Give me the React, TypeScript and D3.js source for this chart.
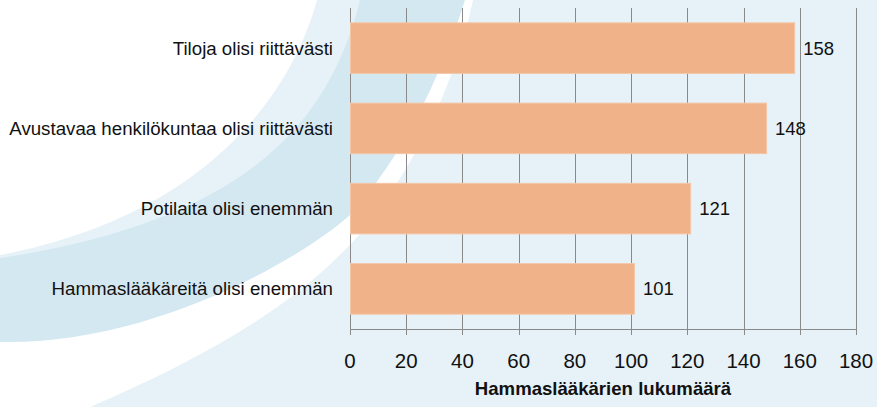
import React, { useEffect, useRef } from 'react';
import * as d3 from 'd3';

const categories = [
  'Tiloja olisi riittävästi',
  'Avustavaa henkilökuntaa olisi riittävästi',
  'Potilaita olisi enemmän',
  'Hammaslääkäreitä olisi enemmän',
];
const values = [158, 148, 121, 101];
const xTicks = [0, 20, 40, 60, 80, 100, 120, 140, 160, 180];
const xTitle = 'Hammaslääkärien lukumäärä';

const width = 877;
const height = 407;
const margin = { top: 8, right: 21, bottom: 78, left: 350 };

const lightBlue = '#e7f2f8';
const darkBlue = '#d4e8f1';
const barColor = '#f0b289';
const gridColor = '#8a8a8a';
const font = '"Liberation Sans", Arial, sans-serif';

function App() {
  const ref = useRef<SVGSVGElement>(null);

  useEffect(() => {
    const svg = d3.select(ref.current);
    svg.selectAll('*').remove();

    // background swooshes
    const bg = svg.append('g');
    bg.append('rect').attr('width', width).attr('height', height).attr('fill', lightBlue);
    bg.append('path')
      .attr('d', 'M0,0 L317,0 C288,105 195,218 0,255 Z')
      .attr('fill', '#ffffff');
    bg.append('path')
      .attr('d', 'M462,0 L473,0 C455,85 415,165 365,228 C300,305 200,360 90,407 L0,407 L0,300 C200,300 400,150 462,0 Z')
      .attr('fill', '#ffffff');
    bg.append('path')
      .attr('d', 'M360,0 L465,0 C440,80 400,160 350,215 C300,260 150,345 0,342 L0,258 C250,220 330,120 360,0 Z')
      .attr('fill', darkBlue);

    const chartW = width - margin.left - margin.right;
    const chartH = height - margin.top - margin.bottom;

    const g = svg.append('g')
      .attr('transform', 'translate(' + margin.left + ',' + margin.top + ')');

    const x = d3.scaleLinear().domain([0, 180]).range([0, chartW]);
    const y = d3.scaleBand()
      .domain(categories)
      .range([0, chartH])
      .paddingInner(0.37)
      .paddingOuter(0.185);

    // gridlines
    g.selectAll('.grid')
      .data(xTicks)
      .enter()
      .append('line')
      .attr('x1', d => Math.round(x(d)) + 0.5)
      .attr('x2', d => Math.round(x(d)) + 0.5)
      .attr('y1', 0)
      .attr('y2', chartH + 6)
      .attr('stroke', gridColor)
      .attr('stroke-width', 1);

    g.append('line')
      .attr('x1', 0)
      .attr('x2', chartW)
      .attr('y1', chartH + 0.5)
      .attr('y2', chartH + 0.5)
      .attr('stroke', gridColor);

    // bars
    const data = categories.map((c, i) => ({ cat: c, val: values[i] }));
    g.selectAll('.bar')
      .data(data)
      .enter()
      .append('rect')
      .attr('x', 0.5)
      .attr('y', d => y(d.cat)!)
      .attr('width', d => x(d.val))
      .attr('height', y.bandwidth())
      .attr('fill', barColor)
      .attr('stroke', '#f4c6a6')
      .attr('stroke-width', 1);

    // value labels
    g.selectAll('.val')
      .data(data)
      .enter()
      .append('text')
      .text(d => d.val)
      .attr('x', d => x(d.val) + 9)
      .attr('y', d => y(d.cat)! + y.bandwidth() / 2)
      .attr('dy', '0.35em')
      .attr('font-family', font)
      .attr('font-size', 18.5)
      .attr('fill', '#111');

    // category labels
    g.selectAll('.cat')
      .data(data)
      .enter()
      .append('text')
      .text(d => d.cat)
      .attr('x', -17)
      .attr('y', d => y(d.cat)! + y.bandwidth() / 2)
      .attr('dy', '0.35em')
      .attr('text-anchor', 'end')
      .attr('font-family', font)
      .attr('font-size', 18.7)
      .attr('fill', '#111');

    // tick labels
    g.selectAll('.tick')
      .data(xTicks)
      .enter()
      .append('text')
      .text(d => d)
      .attr('x', d => x(d))
      .attr('y', chartH + 39)
      .attr('text-anchor', 'middle')
      .attr('font-family', font)
      .attr('font-size', 20.5)
      .attr('fill', '#111');

    g.append('text')
      .text(xTitle)
      .attr('x', chartW / 2)
      .attr('y', chartH + 66)
      .attr('text-anchor', 'middle')
      .attr('font-family', font)
      .attr('font-size', 18.6)
      .attr('font-weight', 'bold')
      .attr('fill', '#111');
  }, []);

  return (
    <svg
      ref={ref}
      width={width}
      height={height}
      style={{ position: 'absolute', left: 0, top: 0, display: 'block' }}
    />
  );
}

export default App;
